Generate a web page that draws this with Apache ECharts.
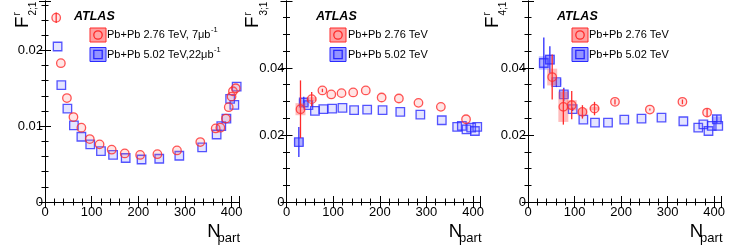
<!DOCTYPE html>
<html><head><meta charset="utf-8">
<script src="https://cdn.jsdelivr.net/npm/echarts@6/dist/echarts.min.js"></script>
<style>html,body{margin:0;padding:0;background:#fff}#c{width:731px;height:250px}</style>
</head><body><div id="c"></div>
<script>
// ---------------- data ----------------
const xTickLabels = [0, 100, 200, 300, 400];
const y1TickLabels = [0, 0.01, 0.02];
const y2TickLabels = [0, 0.02, 0.04];
const y3TickLabels = [0, 0.02, 0.04];

// Panel 1 : F^r_{2;1}
const p1RedN  = [24, 34, 47, 61, 78, 96, 117, 143, 171, 204, 241, 283, 333, 366, 376, 388, 394, 400, 403, 409];
const p1RedF  = [0.0243, 0.0183, 0.0137, 0.0112, 0.0098, 0.0083, 0.0076, 0.0069, 0.0064, 0.0062, 0.0063, 0.0068, 0.0079, 0.0097, 0.0098, 0.0110, 0.0125, 0.0139, 0.0146, 0.0150];
const p1RedStat = [0.0007, 0, 0, 0, 0, 0, 0, 0, 0, 0, 0, 0, 0, 0, 0, 0, 0, 0, 0, 0];
const p1RedSys  = [0, 0, 0, 0, 0, 0, 0, 0, 0, 0, 0, 0, 0, 0, 0, 0, 0, 0, 0, 0];
const p1BlueN = [27, 35, 48, 62, 78, 97, 120, 146, 173, 207, 245, 288, 337, 368, 378, 389, 397, 406, 411];
const p1BlueF = [0.0205, 0.0154, 0.0123, 0.0101, 0.0086, 0.0076, 0.0067, 0.0062, 0.0058, 0.0056, 0.0057, 0.0061, 0.0072, 0.0089, 0.0100, 0.0110, 0.0136, 0.0128, 0.0152];
const p1BlueStat = [0, 0, 0, 0, 0, 0, 0, 0, 0, 0, 0, 0, 0, 0, 0, 0, 0, 0, 0];
const p1BlueSys  = [0, 0, 0, 0, 0, 0, 0, 0, 0, 0, 0, 0, 0, 0, 0, 0, 0, 0, 0];

// Panel 2 : F^r_{3;1}
const p2RedN  = [30, 54, 77, 96, 118, 143, 170, 204, 241, 283, 331, 385];
const p2RedF  = [0.0277, 0.0307, 0.0333, 0.0321, 0.0325, 0.0327, 0.0333, 0.0312, 0.0309, 0.0296, 0.0284, 0.0247];
const p2RedStat = [0.0086, 0.0021, 0.0005, 0, 0, 0, 0, 0, 0, 0, 0, 0];
const p2RedSys  = [0.0018, 0.0006, 0, 0, 0, 0, 0, 0, 0, 0, 0, 0];
const p2BlueN = [26.5, 37, 47, 61, 79, 98, 120, 145, 173, 206, 244, 287, 333, 366, 376, 386, 396, 404, 409];
const p2BlueF = [0.0179, 0.0297, 0.0289, 0.0272, 0.0277, 0.0279, 0.0281, 0.0274, 0.0276, 0.0274, 0.0269, 0.0261, 0.0244, 0.0224, 0.0227, 0.0217, 0.0222, 0.0212, 0.0224];
const p2BlueStat = [0.0045, 0.0017, 0, 0, 0, 0, 0, 0, 0, 0, 0, 0, 0, 0, 0, 0, 0, 0, 0];
const p2BlueSys  = [0.0012, 0.0010, 0, 0, 0, 0, 0, 0, 0, 0, 0, 0, 0, 0, 0, 0, 0, 0, 0];

// Panel 3 : F^r_{4;1}
const p3RedN  = [52, 76, 94, 117, 143, 187, 262, 332, 385];
const p3RedF  = [0.0373, 0.0284, 0.0289, 0.0269, 0.0279, 0.0299, 0.0276, 0.0299, 0.0267];
const p3RedStat = [0.0067, 0.0053, 0.0042, 0.0020, 0.0020, 0.0008, 0.0003, 0.0007, 0.0012];
const p3RedSys  = [0.0025, 0.0045, 0.0015, 0.0010, 0.0005, 0, 0, 0, 0];
const p3BlueN = [34, 47, 61, 77, 96, 119, 144, 172, 207, 244, 287, 334, 366, 377, 388, 395, 406, 409];
const p3BlueF = [0.0415, 0.0425, 0.0358, 0.0321, 0.0277, 0.0246, 0.0237, 0.0237, 0.0246, 0.0249, 0.0252, 0.0241, 0.0222, 0.0232, 0.0212, 0.0227, 0.0247, 0.0227];
const p3BlueStat = [0.0076, 0.0040, 0.0015, 0.0020, 0.0005, 0, 0, 0, 0, 0, 0, 0, 0, 0, 0, 0, 0.0012, 0];
const p3BlueSys  = [0.0020, 0.0015, 0.0010, 0.0010, 0, 0, 0, 0, 0, 0, 0, 0, 0, 0, 0, 0, 0.0008, 0];

const legendRed  = ['Pb+Pb 2.76 TeV, 7μb', 'Pb+Pb 2.76 TeV', 'Pb+Pb 2.76 TeV'];
const legendBlue = ['Pb+Pb 5.02 TeV,22μb', 'Pb+Pb 5.02 TeV', 'Pb+Pb 5.02 TeV'];
const legendSup  = ['-1', '', ''];
const yTitleSub  = ['2;1', '3;1', '4;1'];

// ---------------- layout / style ----------------
const FONT = '"Liberation Sans", Arial, Helvetica, sans-serif';
const RED = '#ff2a2a', BLUE = '#2a2aff';
const RED_FILL = 'rgba(255,110,110,0.22)', BLUE_FILL = 'rgba(100,100,255,0.22)';
const RED_SYS = 'rgba(255,90,90,0.40)', BLUE_SYS = 'rgba(90,90,255,0.40)';
const grids = [
  {left: 45,    top: 1, width: 194,   height: 201},
  {left: 286.5, top: 1, width: 194,   height: 201},
  {left: 528,   top: 1, width: 193.5, height: 201}
];
const X_MAX = 416;
const yMax = [0.0265, 0.06, 0.06];
const yMajor = [0.01, 0.02, 0.02];
const yMinor = [0.002, 0.005, 0.005];
const yTicks = [y1TickLabels, y2TickLabels, y3TickLabels];

const panels = [
  {red: [p1RedN, p1RedF, p1RedStat, p1RedSys], blue: [p1BlueN, p1BlueF, p1BlueStat, p1BlueSys]},
  {red: [p2RedN, p2RedF, p2RedStat, p2RedSys], blue: [p2BlueN, p2BlueF, p2BlueStat, p2BlueSys]},
  {red: [p3RedN, p3RedF, p3RedStat, p3RedSys], blue: [p3BlueN, p3BlueF, p3BlueStat, p3BlueSys]}
];

function inList(list, v) { return list.some(t => Math.abs(t - v) < 1e-9); }

const xAxis = [], yAxis = [], series = [];
const lineStyle = {color: '#000', width: 1};

grids.forEach((g, i) => {
  const xb = {type: 'value', gridIndex: i, min: 0, max: X_MAX, splitLine: {show: false}};
  xAxis.push(Object.assign({}, xb, {position: 'bottom', interval: 100,
    axisLine: {show: true, lineStyle}, axisTick: {show: true, inside: true, length: 6, lineStyle},
    axisLabel: {show: true, margin: 4, fontSize: 13, fontFamily: FONT, color: '#000', showMaxLabel: true, showMinLabel: true,
      formatter: v => inList(xTickLabels, v) ? String(v) : ''}}));
  xAxis.push(Object.assign({}, xb, {position: 'bottom', interval: 20,
    axisLine: {show: false}, axisTick: {show: true, inside: true, length: 3.5, lineStyle}, axisLabel: {show: false}}));
  xAxis.push(Object.assign({}, xb, {position: 'top', interval: 100,
    axisLine: {show: true, lineStyle}, axisTick: {show: true, inside: true, length: 6, lineStyle}, axisLabel: {show: false}}));
  xAxis.push(Object.assign({}, xb, {position: 'top', interval: 20,
    axisLine: {show: false}, axisTick: {show: true, inside: true, length: 3.5, lineStyle}, axisLabel: {show: false}}));
  const yb = {type: 'value', gridIndex: i, min: 0, max: yMax[i], splitLine: {show: false}};
  yAxis.push(Object.assign({}, yb, {position: 'left', interval: yMajor[i],
    axisLine: {show: true, lineStyle}, axisTick: {show: true, inside: true, length: 6, lineStyle},
    axisLabel: {show: true, margin: 2, fontSize: 13, fontFamily: FONT, color: '#000',
      formatter: v => inList(yTicks[i], v) ? String(+v.toFixed(4)) : ''}}));
  yAxis.push(Object.assign({}, yb, {position: 'left', interval: yMinor[i],
    axisLine: {show: false}, axisTick: {show: true, inside: true, length: 3.5, lineStyle}, axisLabel: {show: false}}));
  yAxis.push(Object.assign({}, yb, {position: 'right', interval: yMajor[i],
    axisLine: {show: true, lineStyle}, axisTick: {show: true, inside: true, length: 6, lineStyle}, axisLabel: {show: false}}));
  yAxis.push(Object.assign({}, yb, {position: 'right', interval: yMinor[i],
    axisLine: {show: false}, axisTick: {show: true, inside: true, length: 3.5, lineStyle}, axisLabel: {show: false}}));

  const xi = i * 4, yi = i * 4;
  const sets = [
    {arr: panels[i].blue, color: BLUE, fill: BLUE_FILL, sys: BLUE_SYS, symbol: 'rect', size: 8.5},
    {arr: panels[i].red,  color: RED,  fill: RED_FILL,  sys: RED_SYS,  symbol: 'circle', size: 8.5}
  ];
  sets.forEach((s, k) => {
    const data = s.arr[0].map((n, j) => [n, s.arr[1][j], s.arr[2][j], s.arr[3][j]]);
    series.push({
      type: 'custom', xAxisIndex: xi, yAxisIndex: yi, z: 2 + k * 3, clip: true, silent: true,
      data, encode: {x: 0, y: 1},
      renderItem: (params, api) => {
        const sy = api.value(3);
        if (!sy) return null;
        const x = api.value(0), y = api.value(1);
        const p1 = api.coord([x, y + sy]), p2 = api.coord([x, y - sy]);
        return {type: 'rect', shape: {x: p1[0] - 5, y: p1[1], width: 10, height: p2[1] - p1[1]},
                style: {fill: s.sys}};
      }
    });
    series.push({
      type: 'custom', xAxisIndex: xi, yAxisIndex: yi, z: 3 + k * 3, clip: true, silent: true,
      data, encode: {x: 0, y: 1},
      renderItem: (params, api) => {
        const e = api.value(2);
        if (!e) return null;
        const x = api.value(0), y = api.value(1);
        const p1 = api.coord([x, y + e]), p2 = api.coord([x, y - e]);
        return {type: 'line', shape: {x1: p1[0], y1: p1[1], x2: p2[0], y2: p2[1]},
                style: {stroke: s.color, lineWidth: 1.3}};
      }
    });
    series.push({
      type: 'scatter', xAxisIndex: xi, yAxisIndex: yi, z: 4 + k * 3, silent: true,
      data: data.map(d => [d[0], d[1]]), symbol: s.symbol, symbolSize: s.size,
      itemStyle: {color: s.fill, borderColor: s.color, borderWidth: 1.3}
    });
  });
});

// ---------------- texts (titles, ATLAS, legend) ----------------
const mctx = document.createElement('canvas').getContext('2d');
function textW(str, size) { mctx.font = size + 'px ' + FONT; return mctx.measureText(str).width; }

const graphic = [];
const yTitleX = [22.5, 252.8, 492.5];
const atlasX = [74, 316, 557];
const boxX = [90, 330, 572];
const textX = [107, 348, 589];
const rowY = [35, 54.5];

grids.forEach((g, i) => {
  const right = g.left + g.width;
  graphic.push({type: 'group', x: yTitleX[i], y: 28, rotation: Math.PI / 2, children: [
    {type: 'text', x: 0, y: 0, style: {text: 'F', font: '19px ' + FONT, fill: '#000', align: 'left', verticalAlign: 'middle'}},
    {type: 'text', x: 12.5, y: -5, style: {text: 'r', font: '10px ' + FONT, fill: '#000', align: 'left', verticalAlign: 'middle'}},
    {type: 'text', x: 12.5, y: 11, style: {text: yTitleSub[i], font: '10px ' + FONT, fill: '#000', align: 'left', verticalAlign: 'middle'}}
  ]});
  graphic.push({type: 'text', x: right - 31.7, y: 231.9, style: {text: 'N', font: '18.5px ' + FONT, fill: '#000', align: 'left', verticalAlign: 'middle'}});
  graphic.push({type: 'text', x: right + 1, y: 238.8, style: {text: 'part', font: '13px ' + FONT, fill: '#000', align: 'right', verticalAlign: 'middle'}});
  graphic.push({type: 'text', x: atlasX[i], y: 17, style: {text: 'ATLAS', font: 'italic bold 12.5px ' + FONT, fill: '#000', align: 'left', verticalAlign: 'middle'}});
  const rows = [
    {label: legendRed[i], color: RED, box: 'rgba(255,80,80,0.55)', sym: 'circle'},
    {label: legendBlue[i], color: BLUE, box: 'rgba(80,80,255,0.55)', sym: 'rect'}
  ];
  rows.forEach((r, k) => {
    const cy = rowY[k];
    graphic.push({type: 'rect', shape: {x: boxX[i], y: cy - 7, width: 16, height: 14}, style: {fill: r.box, stroke: r.color, lineWidth: 1}});
    if (r.sym === 'circle') {
      graphic.push({type: 'circle', shape: {cx: boxX[i] + 8, cy: cy, r: 4.2}, style: {fill: 'rgba(255,170,170,0.6)', stroke: r.color, lineWidth: 1.3}});
    } else {
      graphic.push({type: 'rect', shape: {x: boxX[i] + 3.8, y: cy - 4.2, width: 8.4, height: 8.4}, style: {fill: 'rgba(140,140,255,0.6)', stroke: r.color, lineWidth: 1.3}});
    }
    graphic.push({type: 'text', x: textX[i], y: cy, style: {text: r.label, font: '11px ' + FONT, fill: '#000', align: 'left', verticalAlign: 'middle'}});
    if (legendSup[i]) {
      graphic.push({type: 'text', x: textX[i] + textW(r.label, 11) + 0.5, y: cy - 5, style: {text: legendSup[i], font: '7.5px ' + FONT, fill: '#000', align: 'left', verticalAlign: 'middle'}});
    }
  });
});

const chart = echarts.init(document.getElementById('c'), null, {renderer: 'canvas'});
chart.setOption({
  animation: false,
  backgroundColor: '#fff',
  grid: grids.map(g => Object.assign({containLabel: false, show: false}, g)),
  xAxis, yAxis, series, graphic
});
</script></body></html>
